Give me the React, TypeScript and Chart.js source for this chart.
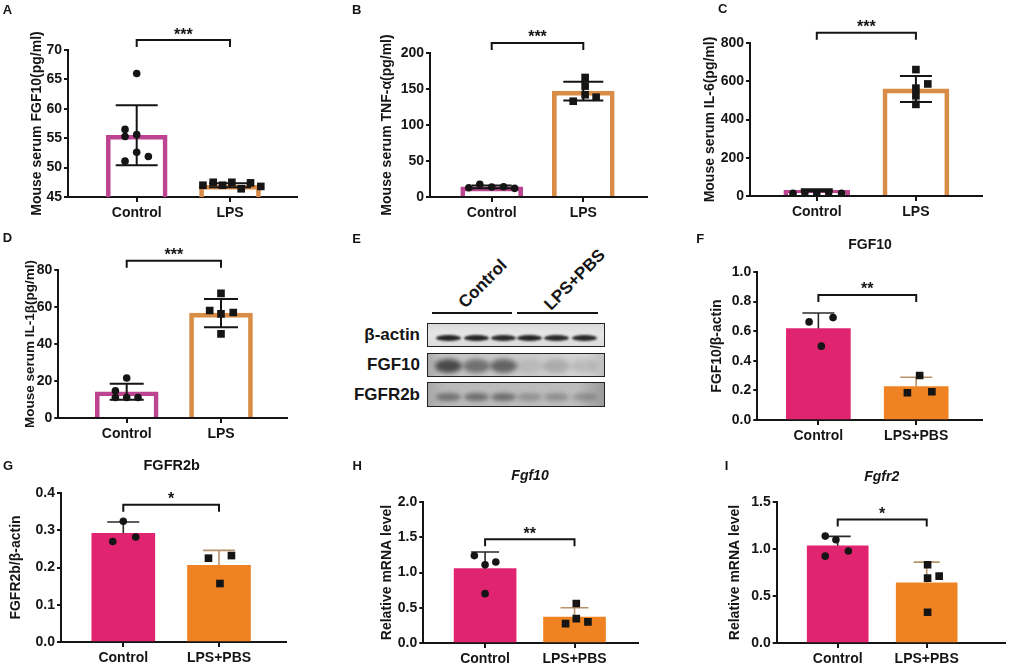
import { useEffect, useRef } from "react";
import { Chart, registerables } from "chart.js";
Chart.register(...registerables);

const FONT = '"Liberation Sans", Arial, sans-serif';
const INK = "#151515";

const serumGroups = ["Control", "LPS"];
const wbGroups = ["Control", "LPS+PBS"];

// A: serum FGF10
const aMean = [55.5, 47.0];
const aSd = [5.1, 0.35];
const aCtrl = [66.0, 56.5, 55.3, 55.6, 52.6, 51.9, 51.1];
const aLps = [47.0, 47.5, 47.0, 47.5, 46.4, 47.4, 46.8];
const aTicks = [45, 50, 55, 60, 65, 70];

// B: serum TNF-a
const bMean = [14, 147];
const bSd = [2, 13];
const bCtrl = [12.9, 17.6, 13.9, 14.3, 12.0];
const bLps = [133, 166, 154, 142, 138.6];
const bTicks = [0, 50, 100, 150, 200];

// C: serum IL-6
const cMean = [30, 560];
const cSd = [5, 68];
const cCtrl = [14, 16, 13, 16, 14];
const cLps = [661, 586, 564, 524, 479];
const cTicks = [0, 200, 400, 600, 800];

// D: serum IL-1b
const dMean = [14.2, 56.7];
const dSd = [4.3, 7.6];
const dCtrl = [21.6, 14.7, 11.1, 11.1, 11.1];
const dLps = [67.4, 58.1, 56.3, 57.0, 45.5];
const dTicks = [0, 20, 40, 60, 80];

// F: FGF10 / b-actin
const fMean = [0.618, 0.225];
const fSd = [0.105, 0.064];
const fCtrl = [0.663, 0.692, 0.499];
const fLps = [0.301, 0.184, 0.191];
const fTicks = [0, 0.2, 0.4, 0.6, 0.8, 1.0];

// G: FGFR2b / b-actin
const gMean = [0.292, 0.206];
const gSd = [0.03, 0.04];
const gCtrl = [0.324, 0.27, 0.282];
const gLps = [0.225, 0.232, 0.157];
const gTicks = [0, 0.1, 0.2, 0.3, 0.4];

// H: Fgf10 mRNA
const hMean = [1.054, 0.369];
const hSd = [0.236, 0.131];
const hCtrl = [1.24, 1.11, 1.15, 0.7];
const hLps = [0.56, 0.274, 0.345, 0.3];
const hTicks = [0, 0.5, 1.0, 1.5, 2.0];

// I: Fgfr2 mRNA
const iMean = [1.034, 0.64];
const iSd = [0.1, 0.22];
const iCtrl = [1.137, 1.098, 0.924, 0.978];
const iLps = [0.832, 0.69, 0.711, 0.327];
const iTicks = [0, 0.5, 1.0, 1.5];

type Spec = {
  groups: string[];
  mean: number[];
  sd: number[];
  ctrl: number[];
  lps: number[];
  ctrlJit: number[];
  lpsJit: number[];
  yTicks: number[];
  decimals: number;
  yTitle: string;
  titleSize: number;
  stars: string;
  bracketAt: number;
  hollow: boolean;
  cellLeft: number;
  x0: number;
  x1: number;
  yTop: number;
  yBot: number;
  p0: number;
  p1: number;
  titleX: number;
  barW: number;
  cap: number;
};

const panels: Spec[] = [
  {
    groups: serumGroups, mean: aMean, sd: aSd, ctrl: aCtrl, lps: aLps,
    ctrlJit: [0, -0.125, -0.125, 0, 0, 0.125, -0.125], lpsJit: [-0.29, -0.18, -0.08, 0.02, 0.12, 0.22, 0.33],
    yTicks: aTicks, decimals: 0, yTitle: "Mouse serum FGF10(pg/ml)", titleSize: 14, stars: "***", bracketAt: 71.7, hollow: true,
    cellLeft: 0, x0: 68, x1: 297, yTop: 50, yBot: 197.3, p0: 136.7, p1: 230, titleX: 37, barW: 61, cap: 21,
  },
  {
    groups: serumGroups, mean: bMean, sd: bSd, ctrl: bCtrl, lps: bLps,
    ctrlJit: [-0.25, -0.13, 0, 0.13, 0.25], lpsJit: [-0.11, 0.02, 0.02, 0.02, 0.14],
    yTicks: bTicks, decimals: 0, yTitle: "Mouse serum TNF-α(pg/ml)", titleSize: 14, stars: "***", bracketAt: 214, hollow: true,
    cellLeft: 345, x0: 430, x1: 647, yTop: 53.3, yBot: 197.7, p0: 491.7, p1: 583.3, titleX: 387, barW: 62, cap: 20,
  },
  {
    groups: serumGroups, mean: cMean, sd: cSd, ctrl: cCtrl, lps: cLps,
    ctrlJit: [-0.24, -0.12, 0, 0.12, 0.25], lpsJit: [0, 0.12, 0, 0, 0],
    yTicks: cTicks, decimals: 0, yTitle: "Mouse serum IL-6(pg/ml)", titleSize: 14, stars: "***", bracketAt: 854, hollow: true,
    cellLeft: 690, x0: 750, x1: 981.7, yTop: 42.7, yBot: 195.7, p0: 816.7, p1: 915.7, titleX: 710, barW: 66, cap: 16,
  },
  {
    groups: serumGroups, mean: dMean, sd: dSd, ctrl: dCtrl, lps: dLps,
    ctrlJit: [0, -0.12, -0.12, 0, 0.12], lpsJit: [0, -0.12, 0, 0.13, 0],
    yTicks: dTicks, decimals: 0, yTitle: "Mouse serum IL-1β(pg/ml)", titleSize: 13.5, stars: "***", bracketAt: 85, hollow: true,
    cellLeft: 0, x0: 58.3, x1: 287, yTop: 270, yBot: 418.3, p0: 126.7, p1: 221, titleX: 29.8, barW: 63, cap: 17,
  },
  {
    groups: wbGroups, mean: fMean, sd: fSd, ctrl: fCtrl, lps: fLps,
    ctrlJit: [-0.095, 0.15, 0.03], lpsJit: [0.035, -0.09, 0.16],
    yTicks: fTicks, decimals: 1, yTitle: "FGF10/β-actin", titleSize: 14, stars: "**", bracketAt: 0.845, hollow: false,
    cellLeft: 690, x0: 757.3, x1: 981.7, yTop: 271.7, yBot: 420, p0: 818.3, p1: 916, titleX: 716.7, barW: 64, cap: 16,
  },
  {
    groups: wbGroups, mean: gMean, sd: gSd, ctrl: gCtrl, lps: gLps,
    ctrlJit: [0, -0.11, 0.13], lpsJit: [-0.11, 0.13, 0.01],
    yTicks: gTicks, decimals: 1, yTitle: "FGFR2b/β-actin", titleSize: 14, stars: "*", bracketAt: 0.3686, hollow: false,
    cellLeft: 0, x0: 61, x1: 286, yTop: 493.3, yBot: 642.3, p0: 123.3, p1: 219, titleX: 15.7, barW: 63, cap: 16,
  },
  {
    groups: wbGroups, mean: hMean, sd: hSd, ctrl: hCtrl, lps: hLps,
    ctrlJit: [-0.12, 0, 0.12, 0], lpsJit: [0.02, -0.1, 0.02, 0.15],
    yTicks: hTicks, decimals: 1, yTitle: "Relative mRNA level", titleSize: 14, stars: "**", bracketAt: 1.471, hollow: false,
    cellLeft: 345, x0: 423.3, x1: 637.7, yTop: 501.7, yBot: 642.7, p0: 485, p1: 574.3, titleX: 386.7, barW: 62, cap: 14,
  },
  {
    groups: wbGroups, mean: iMean, sd: iSd, ctrl: iCtrl, lps: iLps,
    ctrlJit: [-0.14, -0.02, -0.14, 0.12], lpsJit: [0.01, 0.01, 0.14, 0.01],
    yTicks: iTicks, decimals: 1, yTitle: "Relative mRNA level", titleSize: 14, stars: "*", bracketAt: 1.315, hollow: false,
    cellLeft: 690, x0: 776.7, x1: 1005, yTop: 501.7, yBot: 642.3, p0: 837.7, p1: 926.7, titleX: 735.5, barW: 61, cap: 13,
  },
];

const hollowLines = ["#bd4490", "#d88c45"];
const fills = ["#e1246f", "#ef8222"];
const filledErr = ["#2a2a2a", "#b8926a"];

const PAD_TOP = 34;
const PAD_RIGHT = 12;
const X_AXIS_H = 36;

function BarPanel({ s }: { s: Spec }) {
  const ref = useRef<HTMLCanvasElement | null>(null);
  const left = s.cellLeft;
  const top = s.yTop - PAD_TOP;
  const w = Math.round(s.x1 + PAD_RIGHT - left);
  const h = Math.round(s.yBot - top + X_AXIS_H);

  useEffect(() => {
    if (!ref.current) return;
    const unit = s.p1 - s.p0;
    const xmin = (s.x0 - s.p0) / unit;
    const xmax = (s.x1 - s.p0) / unit;
    const tickFont = { family: FONT, size: 14, weight: "bold" as const };

    // error bars (drawn right after the bars) and the significance bracket
    const marks = {
      id: "marks",
      afterDatasetDraw(chart: any, args: any) {
        if (args.meta.type !== "bar") return;
        const { ctx, scales } = chart;
        s.mean.forEach((m, i) => {
          const cx = scales.x.getPixelForValue(i);
          const hi = scales.y.getPixelForValue(m + s.sd[i]);
          const lo = scales.y.getPixelForValue(s.hollow ? m - s.sd[i] : m);
          ctx.save();
          ctx.strokeStyle = s.hollow ? INK : filledErr[i];
          ctx.lineWidth = s.hollow ? 2 : 1.6;
          ctx.beginPath();
          ctx.moveTo(cx, lo);
          ctx.lineTo(cx, hi);
          ctx.moveTo(cx - s.cap, hi);
          ctx.lineTo(cx + s.cap, hi);
          if (s.hollow) {
            ctx.moveTo(cx - s.cap, lo);
            ctx.lineTo(cx + s.cap, lo);
          }
          ctx.stroke();
          ctx.restore();
        });
      },
      afterDraw(chart: any) {
        const { ctx, scales } = chart;
        const by = scales.y.getPixelForValue(s.bracketAt);
        const xa = scales.x.getPixelForValue(0);
        const xb = scales.x.getPixelForValue(1);
        ctx.save();
        ctx.strokeStyle = INK;
        ctx.lineWidth = 2;
        ctx.beginPath();
        ctx.moveTo(xa, by + 7);
        ctx.lineTo(xa, by);
        ctx.lineTo(xb, by);
        ctx.lineTo(xb, by + 7);
        ctx.stroke();
        ctx.fillStyle = INK;
        ctx.font = `bold 16px ${FONT}`;
        ctx.textAlign = "center";
        ctx.textBaseline = "alphabetic";
        ctx.fillText(s.stars, (xa + xb) / 2, by - 0.5);
        ctx.restore();
      },
    };

    const chart = new Chart(ref.current, {
      type: "bar",
      data: {
        datasets: [
          {
            type: "bar",
            data: s.mean.map((v, i) => ({ x: i, y: v })),
            backgroundColor: s.hollow ? "rgba(255,255,255,0)" : fills,
            borderColor: s.hollow ? hollowLines : fills,
            borderWidth: s.hollow ? 4 : 0,
            barThickness: s.barW,
            order: 2,
          },
          {
            type: "scatter",
            data: s.ctrl.map((v, k) => ({ x: s.ctrlJit[k], y: v })),
            pointStyle: "circle",
            pointRadius: 3.8,
            backgroundColor: INK,
            borderWidth: 0,
            order: 0,
          },
          {
            type: "scatter",
            data: s.lps.map((v, k) => ({ x: 1 + s.lpsJit[k], y: v })),
            pointStyle: "rect",
            pointRadius: 5.4,
            backgroundColor: INK,
            borderWidth: 0,
            order: 0,
          },
        ] as any,
      },
      options: {
        animation: false,
        responsive: false,
        layout: { padding: { top: PAD_TOP, right: PAD_RIGHT, left: 0, bottom: 0 } },
        plugins: { legend: { display: false }, tooltip: { enabled: false } },
        scales: {
          x: {
            type: "linear",
            offset: false,
            min: xmin,
            max: xmax,
            afterBuildTicks: (sc: any) => {
              sc.ticks = [{ value: 0 }, { value: 1 }];
            },
            afterFit: (sc: any) => {
              sc.height = X_AXIS_H;
            },
            ticks: {
              callback: (v: any) => s.groups[Number(v)] ?? "",
              font: tickFont,
              color: INK,
              padding: 3,
              autoSkip: false,
              maxRotation: 0,
            },
            grid: { offset: false, drawOnChartArea: false, tickLength: 5, color: INK, lineWidth: 2 },
            border: { color: INK, width: 2 },
          },
          y: {
            min: s.yTicks[0],
            max: s.yTicks[s.yTicks.length - 1],
            afterBuildTicks: (sc: any) => {
              sc.ticks = s.yTicks.map((v) => ({ value: v }));
            },
            afterFit: (sc: any) => {
              sc.width = s.x0 - left;
            },
            ticks: {
              callback: (v: any) => Number(v).toFixed(s.decimals),
              font: tickFont,
              color: INK,
              padding: 2,
            },
            grid: { drawOnChartArea: false, tickLength: 4, color: INK, lineWidth: 2 },
            border: { color: INK, width: 2 },
            title: {
              display: true,
              text: s.yTitle,
              color: INK,
              font: { family: FONT, size: s.titleSize, weight: "bold" },
              padding: { top: s.titleX - left - s.titleSize * 0.6, bottom: 0 },
            },
          },
        },
      } as any,
      plugins: [marks],
    });
    return () => chart.destroy();
  }, [s]);

  return <canvas ref={ref} width={w} height={h} style={{ position: "absolute", left, top, width: w, height: h }} />;
}

function Txt({ x, y, size, children, italic, anchor }: { x: number; y: number; size: number; children: any; italic?: boolean; anchor?: "center" | "right" }) {
  return (
    <div
      style={{
        position: "absolute",
        left: x,
        top: y,
        transform: anchor === "right" ? "translate(-100%,-50%)" : "translate(-50%,-50%)",
        fontFamily: FONT,
        fontWeight: "bold",
        fontStyle: italic ? "italic" : "normal",
        fontSize: size,
        lineHeight: `${Math.round(size * 1.2)}px`,
        color: INK,
        whiteSpace: "nowrap",
      }}
    >
      {children}
    </div>
  );
}

// western blot image stand-in for panel E
function Blot() {
  const lanes = [447, 475, 502, 528, 555, 583];
  const rows = [
    { label: "β-actin", top: 323, h: 24, bg: "linear-gradient(#d8d8d8,#e6e6e6 40%,#dcdcdc)", cy: 336.5, bw: 25, bh: 6, blur: 0.8, band: [0.95, 0.95, 0.92, 0.95, 0.92, 0.92] },
    { label: "FGF10", top: 353, h: 24, bg: "linear-gradient(90deg,#a9a9a9,#c6c6c6 8%,#cbcbcb 60%,#d6d6d6 90%,#bdbdbd)", cy: 365, bw: 27, bh: 14, blur: 2.5, band: [0.72, 0.5, 0.58, 0.1, 0.2, 0.14] },
    { label: "FGFR2b", top: 382, h: 25, bg: "linear-gradient(90deg,#a8a8a8,#bababa 10%,#bdbdbd 85%,#9a9a9a)", cy: 396, bw: 25, bh: 8, blur: 2, band: [0.45, 0.48, 0.48, 0.25, 0.28, 0.24] },
  ];
  return (
    <>
      <Txt x={483.3} y={284} size={17}>
        <div style={{ transform: "rotate(-45deg)" }}>Control</div>
      </Txt>
      <Txt x={575} y={280} size={17}>
        <div style={{ transform: "rotate(-45deg)" }}>LPS+PBS</div>
      </Txt>
      <div style={{ position: "absolute", left: 432, top: 312, width: 80, height: 1.6, background: INK }} />
      <div style={{ position: "absolute", left: 517, top: 312, width: 81, height: 1.6, background: INK }} />
      {rows.map((r) => (
        <div key={r.label}>
          <Txt x={420} y={r.top + r.h / 2} size={17} anchor="right">
            {r.label}
          </Txt>
          <div
            style={{
              position: "absolute",
              left: 427,
              top: r.top,
              width: 178,
              height: r.h,
              boxSizing: "border-box",
              border: "1.5px solid #222",
              background: r.bg,
              overflow: "hidden",
            }}
          >
            {lanes.map((lx, k) => (
              <div
                key={k}
                style={{
                  position: "absolute",
                  left: lx - 427 - r.bw / 2,
                  top: r.cy - r.top - r.bh / 2,
                  width: r.bw,
                  height: r.bh,
                  borderRadius: "50%",
                  background: `rgba(25,25,25,${r.band[k]})`,
                  filter: `blur(${r.blur}px)`,
                }}
              />
            ))}
          </div>
        </div>
      ))}
    </>
  );
}

export default function App() {
  return (
    <div style={{ position: "absolute", left: 0, top: 0, width: 1032, height: 667, background: "#fff", overflow: "hidden" }}>
      {panels.map((s, i) => (
        <BarPanel key={i} s={s} />
      ))}
      <Blot />

      {/* panel letters */}
      <Txt x={7.5} y={9.5} size={13}>A</Txt>
      <Txt x={356.7} y={9.5} size={13}>B</Txt>
      <Txt x={722.8} y={8.5} size={13}>C</Txt>
      <Txt x={7.5} y={238.3} size={13}>D</Txt>
      <Txt x={356.7} y={238.5} size={13}>E</Txt>
      <Txt x={700.3} y={239} size={13}>F</Txt>
      <Txt x={8} y={466.2} size={13}>G</Txt>
      <Txt x={357.2} y={466.2} size={13}>H</Txt>
      <Txt x={726.5} y={466.2} size={13}>I</Txt>

      {/* panel titles */}
      <Txt x={870} y={244} size={14}>FGF10</Txt>
      <Txt x={171.7} y={465.3} size={14.5}>FGFR2b</Txt>
      <Txt x={530} y={475} size={14} italic>Fgf10</Txt>
      <Txt x={881.7} y={475.7} size={14} italic>Fgfr2</Txt>
    </div>
  );
}
